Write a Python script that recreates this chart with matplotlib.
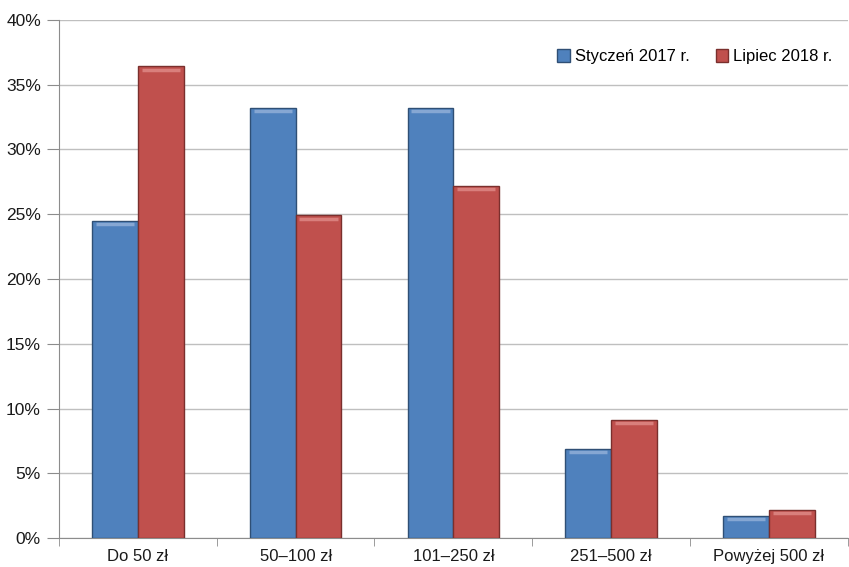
import matplotlib.pyplot as plt
import numpy as np
from matplotlib.ticker import PercentFormatter

# Price ranges and the share of answers in each period (%)
categories = ['Do 50 zł', '50–100 zł', '101–250 zł', '251–500 zł', 'Powyżej 500 zł']
jan_2017 = [24.5, 33.2, 33.2, 6.9, 1.7]
jul_2018 = [36.4, 24.9, 27.2, 9.1, 2.2]
series_labels = ['Styczeń 2017 r.', 'Lipiec 2018 r.']

plt.rcParams['font.family'] = ['Liberation Sans Narrow', 'Liberation Sans', 'DejaVu Sans']

fig = plt.figure(figsize=(8.49, 5.67), dpi=100)
ax = fig.add_axes([0.0695, 0.051, 0.929, 0.914])

x = np.arange(len(categories))
width = 0.29

blue = '#4f81bd'
red = '#c0504d'

b1 = ax.bar(x - width / 2, jan_2017, width, color=blue, edgecolor='#2f4f75',
            linewidth=1.0, label=series_labels[0], zorder=3)
b2 = ax.bar(x + width / 2, jul_2018, width, color=red, edgecolor='#7a2f2d',
            linewidth=1.0, label=series_labels[1], zorder=3)

# light bevel along the top of each bar
for bars, hl in ((b1, '#86a7d3'), (b2, '#d97f7c')):
    for r in bars:
        x0 = r.get_x()
        w = r.get_width()
        h = r.get_height()
        ax.plot([x0 + w * 0.08, x0 + w * 0.92], [h - 0.25, h - 0.25],
                color=hl, lw=2.5, solid_capstyle='butt', zorder=4)

ax.set_xlim(-0.5, len(categories) - 0.5)
ax.set_ylim(0, 40)
ax.set_yticks(np.arange(0, 41, 5))
ax.yaxis.set_major_formatter(PercentFormatter(decimals=0))
ax.set_xticks(x)
ax.set_xticklabels(categories)
ax.set_xticks(np.arange(-0.5, len(categories), 1.0), minor=True)

ax.grid(axis='y', color='#bfbfbf', linewidth=1.0, zorder=0)
for side in ('top', 'right'):
    ax.spines[side].set_visible(False)
for side in ('left', 'bottom'):
    ax.spines[side].set_color('#8c8c8c')

ax.tick_params(axis='y', length=9, color='#8c8c8c', labelsize=12.5, pad=4,
               labelcolor='#1a1a1a')
ax.tick_params(axis='x', which='major', length=0, labelsize=12, pad=8,
               labelcolor='#1a1a1a')
ax.tick_params(axis='x', which='minor', length=6, color='#8c8c8c')

ax.legend(loc='upper right', bbox_to_anchor=(1.0, 0.972), ncol=2, frameon=False,
          fontsize=12, handlelength=0.75, handleheight=0.75, handletextpad=0.3,
          columnspacing=1.6)

fig.savefig('out.png', dpi=100)
